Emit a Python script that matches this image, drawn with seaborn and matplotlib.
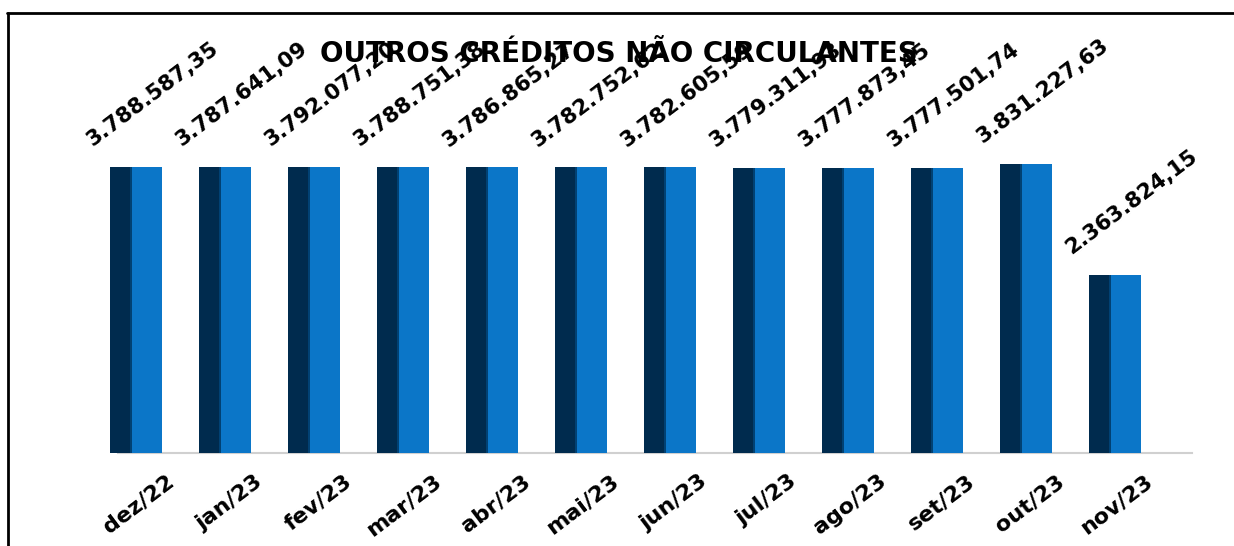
import numpy as np
import matplotlib
matplotlib.use("Agg")
import matplotlib.pyplot as plt
import matplotlib.transforms as mtransforms
from matplotlib.lines import Line2D
import seaborn as sns

months = ["dez/22", "jan/23", "fev/23", "mar/23", "abr/23", "mai/23",
          "jun/23", "jul/23", "ago/23", "set/23", "out/23", "nov/23"]
values = [3788587.35, 3787641.09, 3792077.20, 3788751.38, 3786865.27, 3782752.62,
          3782605.59, 3779311.93, 3777873.45, 3777501.74, 3831227.63, 2363824.15]
value_labels = ["3.788.587,35", "3.787.641,09", "3.792.077,20", "3.788.751,38",
                "3.786.865,27", "3.782.752,62", "3.782.605,59", "3.779.311,93",
                "3.777.873,45", "3.777.501,74", "3.831.227,63", "2.363.824,15"]
title = "OUTROS CRÉDITOS NÃO CIRCULANTES"

W, H = 1234, 546
sns.set_theme(style="white")
plt.rcParams['font.family'] = ['DejaVu Sans']

fig = plt.figure(figsize=(W / 100, H / 100), dpi=100)
fig.patch.set_facecolor("white")

left_px, right_px, bottom_px, top_px = 118, 1192, 453, 100
ax = fig.add_axes([left_px / W, 1 - bottom_px / H,
                   (right_px - left_px) / W, (bottom_px - top_px) / H])

light = "#0B76C8"
dark = "#002B4E"
mid = "#014173"
bw = 0.585
dw = 0.225

sns.barplot(x=months, y=values, color=light, width=bw, ax=ax,
            saturation=1, linewidth=0, errorbar=None)
xs = np.arange(len(values))
ax.bar(xs - bw / 2 + dw / 2, values, width=dw, color=dark, linewidth=0, zorder=3)
ax.bar(xs - bw / 2 + dw + 0.012, values, width=0.024, color=mid, linewidth=0, zorder=3)
for p in ax.patches:
    p.set_clip_on(False)

ymax = (bottom_px - top_px) / ((bottom_px - 167) / 3788587.35)
ax.set_ylim(0, ymax)
ax.set_xlim(-0.2, 11.87)

for s in ["top", "right", "left"]:
    ax.spines[s].set_visible(False)
ax.spines["bottom"].set_color("#D0D0D0")
ax.spines["bottom"].set_linewidth(1.5)
ax.spines["bottom"].set_zorder(0)
ax.set_yticks([])
ax.set_xlabel("")
ax.set_ylabel("")
ax.tick_params(axis="x", length=0, pad=13)
ax.set_xticks(xs)
ax.set_xticklabels(months, rotation=37, ha="right", va="top",
                   rotation_mode="anchor", fontsize=16, fontweight="bold",
                   color="black")
off = mtransforms.ScaledTranslation(30 / 100, 0, fig.dpi_scale_trans)
for lab in ax.get_xticklabels():
    lab.set_transform(lab.get_transform() + off)

for i, (v, t) in enumerate(zip(values, value_labels)):
    ax.annotate(t, xy=(i, v), xytext=(-43, 20), textcoords="offset pixels",
                ha="left", va="baseline", rotation=37, rotation_mode="anchor",
                fontsize=15.5, fontweight="bold", color="black", zorder=5,
                annotation_clip=False)

fig.text(619 / W, 1 - 62 / H, title, ha="center", va="baseline",
         fontsize=20, fontweight="bold", color="black", zorder=10)

fig.add_artist(Line2D([7 / W, 1], [1 - 13 / H, 1 - 13 / H], color="black",
                      linewidth=2, transform=fig.transFigure))
fig.add_artist(Line2D([8 / W, 8 / W], [1 - 13 / H, 0], color="black",
                      linewidth=2, transform=fig.transFigure))

fig.savefig("out.png", dpi=100, facecolor="white")
